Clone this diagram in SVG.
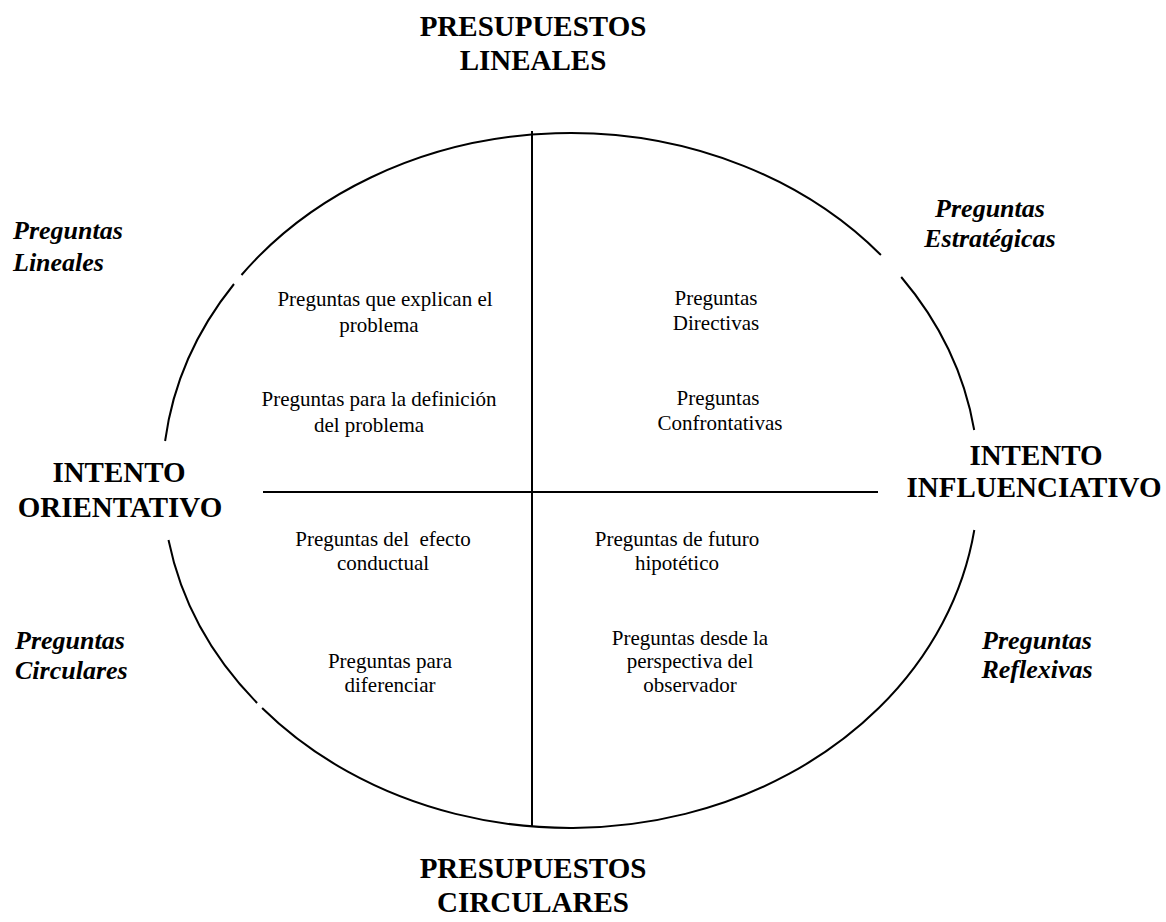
<svg xmlns="http://www.w3.org/2000/svg" width="1166" height="922" viewBox="0 0 1166 922">
  <style>
    .bg { fill: #ffffff; }
    .rim { fill: none; stroke: #000; stroke-width: 2; }
    .axis { stroke: #000; stroke-width: 2; }
    text { font-family: "Liberation Serif", "Times New Roman", serif; fill: #000; }
    .head { font-size: 29px; font-weight: bold; text-anchor: middle; }
    .kind { font-size: 26px; font-weight: bold; font-style: italic; }
    .item { font-size: 21px; text-anchor: middle; }
  </style>
  <rect class="bg" x="0" y="0" width="1166" height="922"/>

  <!-- outer ellipse, broken where the side labels sit -->
  <g id="ellipse">
    <path class="rim" d="M 241.5 275 A 408 347.5 0 0 1 880.9 255"/>
    <path class="rim" d="M 901.2 277 A 408 347.5 0 0 1 974.2 430"/>
    <path class="rim" d="M 974.3 530 A 408 347.5 0 0 1 262.1 708"/>
    <path class="rim" d="M 257.1 703 A 408 347.5 0 0 1 168.5 540"/>
    <path class="rim" d="M 165.1 441 A 408 347.5 0 0 1 234.0 284"/>
  </g>

  <!-- quadrant axes -->
  <g id="connectors">
    <line class="axis" x1="532" y1="131" x2="532" y2="827"/>
    <line class="axis" x1="263" y1="492" x2="878" y2="492"/>
  </g>

  <g id="presupuestos-lineales">
    <text class="head" x="533" y="36">PRESUPUESTOS</text>
    <text class="head" x="533" y="70">LINEALES</text>
  </g>
  <g id="presupuestos-circulares">
    <text class="head" x="533" y="878">PRESUPUESTOS</text>
    <text class="head" x="533" y="912">CIRCULARES</text>
  </g>
  <g id="intento-orientativo">
    <text class="head" x="119" y="482">INTENTO</text>
    <text class="head" x="120" y="517">ORIENTATIVO</text>
  </g>
  <g id="intento-influenciativo">
    <text class="head" x="1036" y="465">INTENTO</text>
    <text class="head" x="1034" y="497">INFLUENCIATIVO</text>
  </g>

  <g id="preguntas-lineales">
    <text class="kind" x="13" y="239">Preguntas</text>
    <text class="kind" x="13" y="271">Lineales</text>
  </g>
  <g id="preguntas-estrategicas">
    <text class="kind" x="990" y="217" text-anchor="middle">Preguntas</text>
    <text class="kind" x="990" y="247" text-anchor="middle">Estratégicas</text>
  </g>
  <g id="preguntas-circulares">
    <text class="kind" x="15" y="649">Preguntas</text>
    <text class="kind" x="15" y="679">Circulares</text>
  </g>
  <g id="preguntas-reflexivas">
    <text class="kind" x="1037" y="649" text-anchor="middle">Preguntas</text>
    <text class="kind" x="1037" y="678" text-anchor="middle">Reflexivas</text>
  </g>

  <g id="q-explican">
    <text class="item" x="385" y="306">Preguntas que explican el</text>
    <text class="item" x="379" y="332">problema</text>
  </g>
  <g id="q-definicion">
    <text class="item" x="379" y="406">Preguntas para la definición</text>
    <text class="item" x="369" y="432">del problema</text>
  </g>
  <g id="q-directivas">
    <text class="item" x="716" y="305">Preguntas</text>
    <text class="item" x="716" y="330">Directivas</text>
  </g>
  <g id="q-confrontativas">
    <text class="item" x="718" y="405">Preguntas</text>
    <text class="item" x="720" y="430">Confrontativas</text>
  </g>
  <g id="q-efecto">
    <text class="item" x="383" y="546" xml:space="preserve">Preguntas del  efecto</text>
    <text class="item" x="383" y="570">conductual</text>
  </g>
  <g id="q-diferenciar">
    <text class="item" x="390" y="668">Preguntas para</text>
    <text class="item" x="390" y="692">diferenciar</text>
  </g>
  <g id="q-futuro">
    <text class="item" x="677" y="546">Preguntas de futuro</text>
    <text class="item" x="677" y="570">hipotético</text>
  </g>
  <g id="q-observador">
    <text class="item" x="690" y="645">Preguntas desde la</text>
    <text class="item" x="690" y="668">perspectiva del</text>
    <text class="item" x="690" y="692">observador</text>
  </g>
</svg>
